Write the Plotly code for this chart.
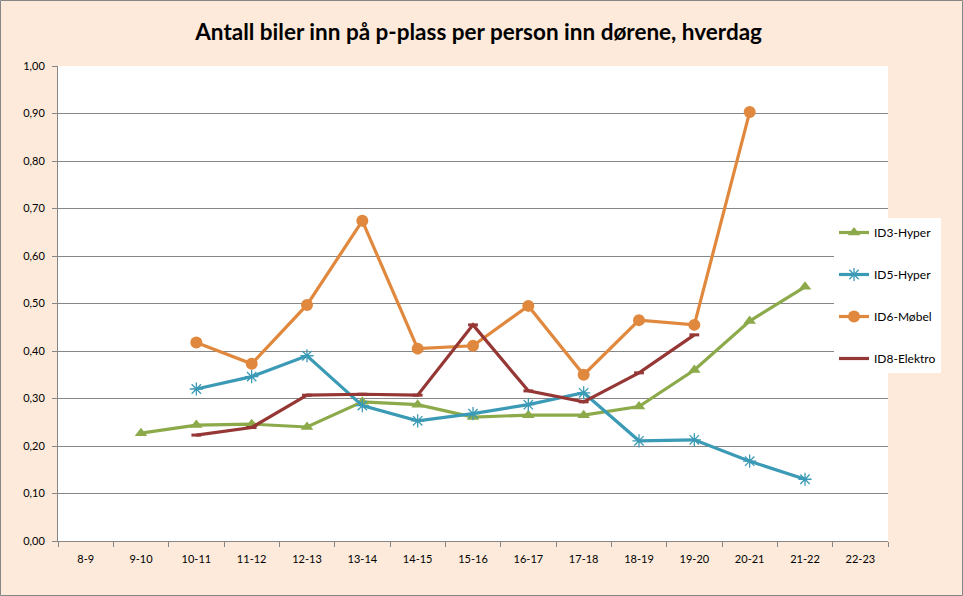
import plotly.graph_objects as go

categories = ["8-9", "9-10", "10-11", "11-12", "12-13", "13-14", "14-15", "15-16",
              "16-17", "17-18", "18-19", "19-20", "20-21", "21-22", "22-23"]

id3_hyper = [None, 0.227, 0.244, 0.246, 0.240, 0.293, 0.287, 0.261, 0.265, 0.265,
             0.283, 0.360, 0.463, 0.535, None]
id5_hyper = [None, None, 0.320, 0.346, 0.390, 0.285, 0.253, 0.268, 0.287, 0.312,
             0.211, 0.213, 0.168, 0.130, None]
id6_mobel = [None, None, 0.418, 0.373, 0.497, 0.674, 0.405, 0.411, 0.495, 0.350,
             0.465, 0.455, 0.903, None, None]
id8_elektro = [None, None, 0.223, 0.239, 0.307, 0.309, 0.307, 0.455, 0.316, 0.293,
               0.354, 0.434, None, None, None]

FONT = "Lato"
W, H = 963, 596
L, R, T, B = 58, 75, 66, 55

fig = go.Figure()

fig.add_trace(go.Scatter(
    x=categories, y=id3_hyper, name="ID3-Hyper", mode="lines+markers",
    line=dict(color="#8DAA4B", width=3.2),
    marker=dict(symbol="triangle-up", size=11, color="#8DAA4B"),
    legendgroup="a"))
fig.add_trace(go.Scatter(
    x=categories, y=id5_hyper, name="ID5-Hyper", mode="lines+markers",
    line=dict(color="#3B9AB5", width=3.2),
    marker=dict(symbol="asterisk", size=11, color="#3B9AB5",
                line=dict(color="#3B9AB5", width=1.3)),
    legendgroup="b"))
fig.add_trace(go.Scatter(
    x=categories, y=id6_mobel, name="ID6-Møbel", mode="lines+markers",
    line=dict(color="#E0883D", width=3.2),
    marker=dict(symbol="circle", size=12, color="#E0883D"),
    legendgroup="c"))
fig.add_trace(go.Scatter(
    x=categories, y=id8_elektro, name="ID8-Elektro", mode="lines+markers",
    line=dict(color="#953735", width=3.2),
    marker=dict(symbol="line-ew", size=7, color="#C06060",
                line=dict(color="#953735", width=3)),
    legendgroup="d"))

# outer border
fig.add_shape(type="rect", xref="paper", yref="paper",
              x0=(0.5 - L) / (W - L - R), x1=(W - 0.5 - L) / (W - L - R),
              y0=(H - B - (H - 0.5)) / (H - T - B), y1=(H - B - 0.5) / (H - T - B),
              line=dict(color="#868686", width=1), fillcolor="rgba(0,0,0,0)",
              layer="below")

fig.update_layout(
    width=W, height=H,
    margin=dict(l=L, r=R, t=T, b=B, autoexpand=False),
    paper_bgcolor="#FDEADA",
    plot_bgcolor="#FFFFFF",
    separators=", ",
    font=dict(family=FONT, size=11, color="#000000"),
    title=dict(text="<b>Antall biler inn på p-plass per person inn dørene, hverdag</b>",
               font=dict(family=FONT, size=22.5, color="#000000"),
               x=0.497, xref="container", xanchor="center",
               y=1 - 32 / H, yref="container", yanchor="middle"),
    showlegend=True,
    legend=dict(
        xref="container", yref="container",
        x=834 / W, y=1 - 218 / H, xanchor="left", yanchor="top",
        bgcolor="#FFFFFF", borderwidth=0,
        font=dict(family=FONT, size=12, color="#000000"),
        tracegroupgap=23, traceorder="grouped",
        itemwidth=30,
    ),
    xaxis=dict(
        type="category", categoryorder="array", categoryarray=categories,
        range=[-0.5, len(categories) - 0.5],
        showgrid=False, showline=True, linecolor="#868686", linewidth=1,
        ticks="outside", tickson="boundaries", ticklen=5, tickcolor="#868686",
        tickfont=dict(family=FONT, size=11), ticklabelstandoff=8,
        zeroline=False, fixedrange=True,
    ),
    yaxis=dict(
        range=[0, 1], dtick=0.1, tick0=0, tickformat=".2f",
        showgrid=True, gridcolor="#868686", gridwidth=1,
        showline=True, linecolor="#868686", linewidth=1,
        ticks="outside", ticklen=5, tickcolor="#868686",
        tickfont=dict(family=FONT, size=11), ticklabelstandoff=5,
        zeroline=False, fixedrange=True,
    ),
)

fig.write_html("out.html")
